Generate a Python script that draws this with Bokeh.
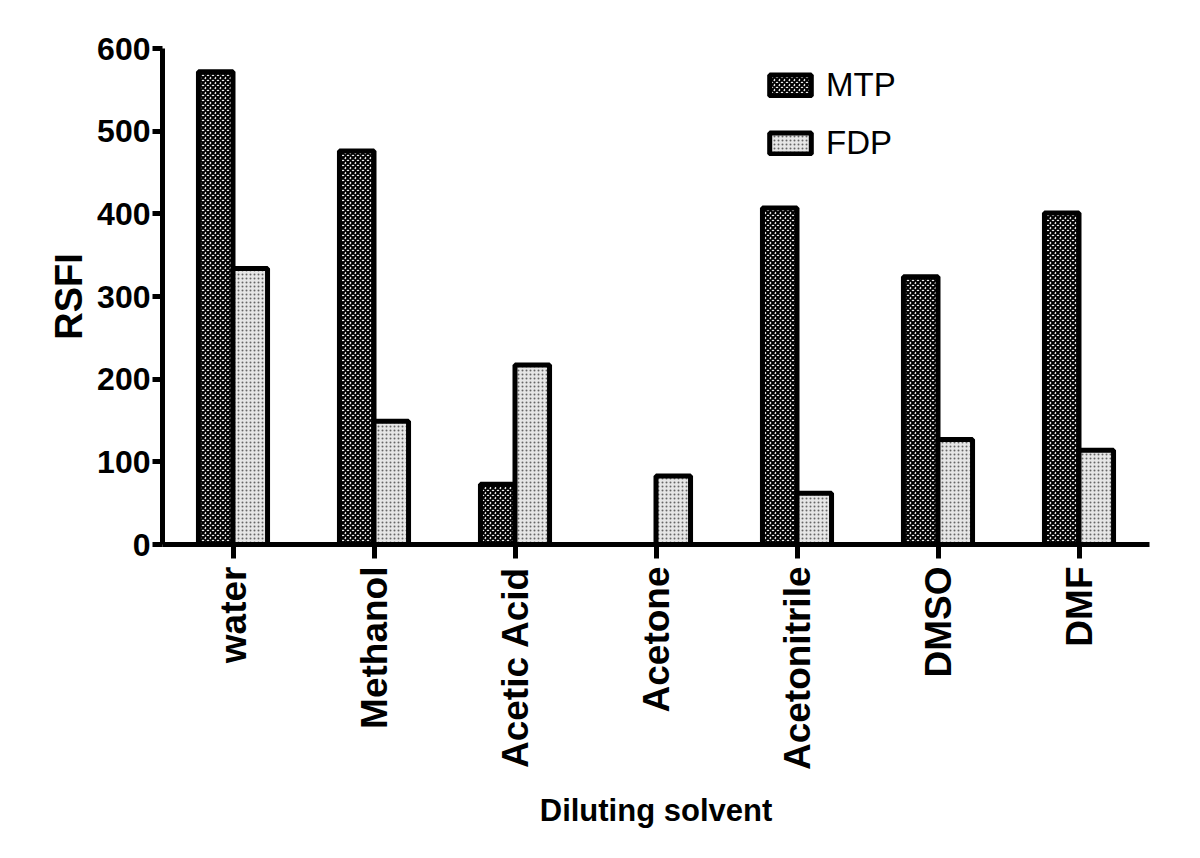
import math
from bokeh.plotting import figure
from bokeh.models import ColumnDataSource, FactorRange, Legend, LegendItem, FixedTicker
from bokeh.transform import dodge
from bokeh.embed import file_html
from bokeh.resources import INLINE

solvents = ["water", "Methanol", "Acetic Acid", "Acetone", "Acetonitrile", "DMSO", "DMF"]
mtp = [572, 476, 73, 0, 407, 324, 401]
fdp = [334, 149, 217, 83, 62, 127, 114]
y_ticks = [0, 100, 200, 300, 400, 500, 600]

src = ColumnDataSource(dict(solvent=solvents, mtp=mtp, fdp=fdp))

FONT = "Liberation Sans"

p = figure(x_range=FactorRange(*solvents, range_padding=0), y_range=(0, 600),
           width=1200, height=858, output_backend="svg", toolbar_location=None,
           min_border_left=162, min_border_right=51, min_border_top=48, min_border_bottom=314)
p.outline_line_color = None
p.grid.grid_line_color = None

r1 = p.vbar(x=dodge("solvent", -0.1225, range=p.x_range), top="mtp", width=0.245, source=src,
            fill_color="white", hatch_pattern="diagonal_cross", hatch_scale=5, hatch_weight=2,
            hatch_color="black", line_color="black", line_width=5)
r2 = p.vbar(x=dodge("solvent", 0.1225, range=p.x_range), top="fdp", width=0.245, source=src,
            fill_color="#e6e6e6", hatch_pattern="dot", hatch_scale=4, hatch_weight=1,
            hatch_color="#666666", line_color="black", line_width=5)

legend = Legend(items=[LegendItem(label="MTP", renderers=[r1]), LegendItem(label="FDP", renderers=[r2])],
                location=(602, 382), orientation="vertical",
                glyph_width=52, glyph_height=26, label_height=26, spacing=20,
                padding=0, margin=0, border_line_color=None, background_fill_alpha=0,
                label_text_font=FONT, label_text_font_size="33px", label_text_color="black",
                label_standoff=10)
p.add_layout(legend)

for ax in (p.xaxis[0], p.yaxis[0]):
    ax.axis_line_width = 5
    ax.major_tick_line_width = 5
    ax.major_tick_in = 0
    ax.minor_tick_line_color = None
    ax.major_label_text_font = FONT
    ax.major_label_text_font_style = "bold"
    ax.major_label_text_color = "black"
    ax.axis_label_text_font = FONT
    ax.axis_label_text_font_style = "bold"
    ax.axis_label_text_color = "black"

p.yaxis.ticker = FixedTicker(ticks=y_ticks)
p.yaxis.major_tick_out = 10
p.yaxis.major_label_standoff = 2
p.yaxis.major_label_text_font_size = "32px"
p.yaxis.axis_label = "RSFI"
p.yaxis.axis_label_text_font_size = "38px"
p.yaxis.axis_label_standoff = 4

p.xaxis.major_tick_out = 14
p.xaxis.major_label_orientation = math.pi / 2
p.xaxis.major_label_standoff = 8
p.xaxis.major_label_text_font_size = "37px"
p.xaxis.axis_label = "Diluting solvent"
p.xaxis.axis_label_text_font_size = "31px"
p.xaxis.axis_label_standoff = 20

open("out.html", "w").write(file_html(p, INLINE))
